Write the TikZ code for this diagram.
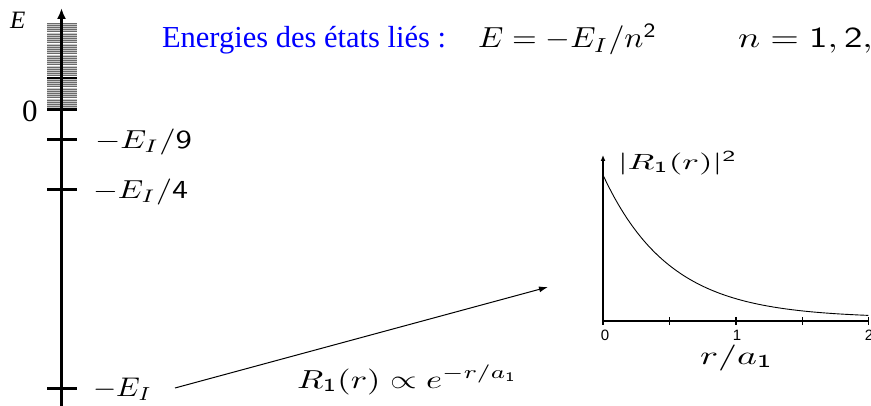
\documentclass[tikz,border=0pt]{standalone}
\usepackage{fontspec}
\usepackage{graphicx}
\newfontfamily\timesf{Liberation Serif}
\newfontfamily\timesit{Liberation Serif Italic}
\newfontfamily\helvf{Liberation Sans}
\usetikzlibrary{arrows.meta}
% #1 target width, #2 font size in units of 10pt, #3 math content
\newcommand\fitm[3]{\resizebox{#1}{\height}{\scalebox{#2}{$#3$}}}
\begin{document}
\begin{tikzpicture}[x=1pt,y=-1pt,
  every node/.style={inner sep=0pt,outer sep=0pt},
  lbl/.style={anchor=base west},
  baraxis/.style={line width=3pt},
  tickmark/.style={line width=3pt},
  gaxis/.style={line width=1.2pt},
  hatchdark/.style={black!58,line width=0.8pt},
  hatchlight/.style={black!22,line width=0.7pt},
  ticklabel/.style={anchor=base}]
\useasboundingbox (0,0) rectangle (871,406);
\clip (0,0) rectangle (871,406);

% continuum band
\foreach \yy in {23,25.2,...,108} \draw[hatchdark] (47,\yy) -- (77,\yy);
\foreach \yy in {24.1,26.3,...,108} \draw[hatchlight] (47,\yy) -- (77,\yy);
\draw[line width=1.6pt] (47,78) -- (77,78);
\draw[line width=3pt] (47,110) -- (77,110);

% energy axis
\coordinate (axbot) at (61.5,406);
\coordinate (axtop) at (61.5,8);
\draw[baraxis,-{Latex[length=11pt,width=9pt]}] (axbot) -- (axtop);

% levels
\coordinate (t9a) at (47,140); \coordinate (t9b) at (77,140);
\coordinate (t4a) at (47,190); \coordinate (t4b) at (77,190);
\coordinate (t1a) at (47,388); \coordinate (t1b) at (77,388);
\draw[tickmark] (t9a) -- (t9b);
\draw[tickmark] (t4a) -- (t4b);
\draw[tickmark] (t1a) -- (t1b);

% labels on the energy axis
\node[lbl] (Elab) at (10,29) {\scalebox{2.5}{\timesit E}};
\node[lbl] (zero) at (22,122) {\scalebox{3.1}{\timesf 0}};
\node[lbl] (l9) at (95,149) {\fitm{97pt}{2.6}{-E_I/\mathsf{9}}};
\node[lbl] (l4) at (93,199) {\fitm{95pt}{2.6}{-E_I/\mathsf{4}}};
\node[lbl] (l1) at (93,396) {\fitm{59pt}{2.7}{-E_I}};

% title line
\node[lbl,text=blue] (title) at (162,48) {\fontsize{30.5}{34}\selectfont\timesf Energies des états liés :};
\node[lbl] (eqE) at (478,48) {\fitm{179pt}{2.9}{E=-E_I/n^{\mathsf{2}}}};
\node[lbl] (eqn) at (738,48) {\scalebox{1.27}[1]{\scalebox{2.9}{$n=\mathsf{1},\mathsf{2},\mathsf{3},\ldots$}}};

% arrow and formula
\coordinate (arrS) at (175,388);
\coordinate (arrE) at (548,287);
\draw[line width=1pt,-{Latex[length=9pt,width=6pt]}] (arrS) -- (arrE);
\node[lbl] (Rform) at (297,388) {\fitm{221pt}{2.6}{R_{\mathsf{1}}(r)\propto e^{-r/a_{\mathsf{1}}}}};

% graph
\coordinate (O) at (603,321);
\coordinate (Ytop) at (603,155);
\coordinate (Xend) at (869,321);
\draw[gaxis,-{Latex[length=6pt,width=5pt]}] (O) -- (Ytop);
\draw[gaxis] (O) -- (Xend);
\foreach \xx in {603,669.5,736,802.5,868.5} \draw[gaxis] (\xx,317) -- (\xx,325);
\draw[line width=0.9pt] plot[domain=0:2,samples=90] ({603+132.75*\x},{318-143*exp(-2*\x)});
\node[lbl] (Rsq) at (618,169.5) {\fitm{119pt}{2.2}{|R_{\mathsf{1}}(r)|^{\mathsf{2}}}};
\node[ticklabel] (g0) at (605,341) {\scalebox{1.5}{\helvf 0}};
\node[ticklabel] (g1) at (737,341) {\scalebox{1.5}{\helvf 1}};
\node[ticklabel] (g2) at (869,341) {\scalebox{1.5}{\helvf 2}};
\node[lbl] (rax) at (700,364) {\fitm{73pt}{2.6}{r/a_{\mathsf{1}}}};
\end{tikzpicture}
\end{document}
